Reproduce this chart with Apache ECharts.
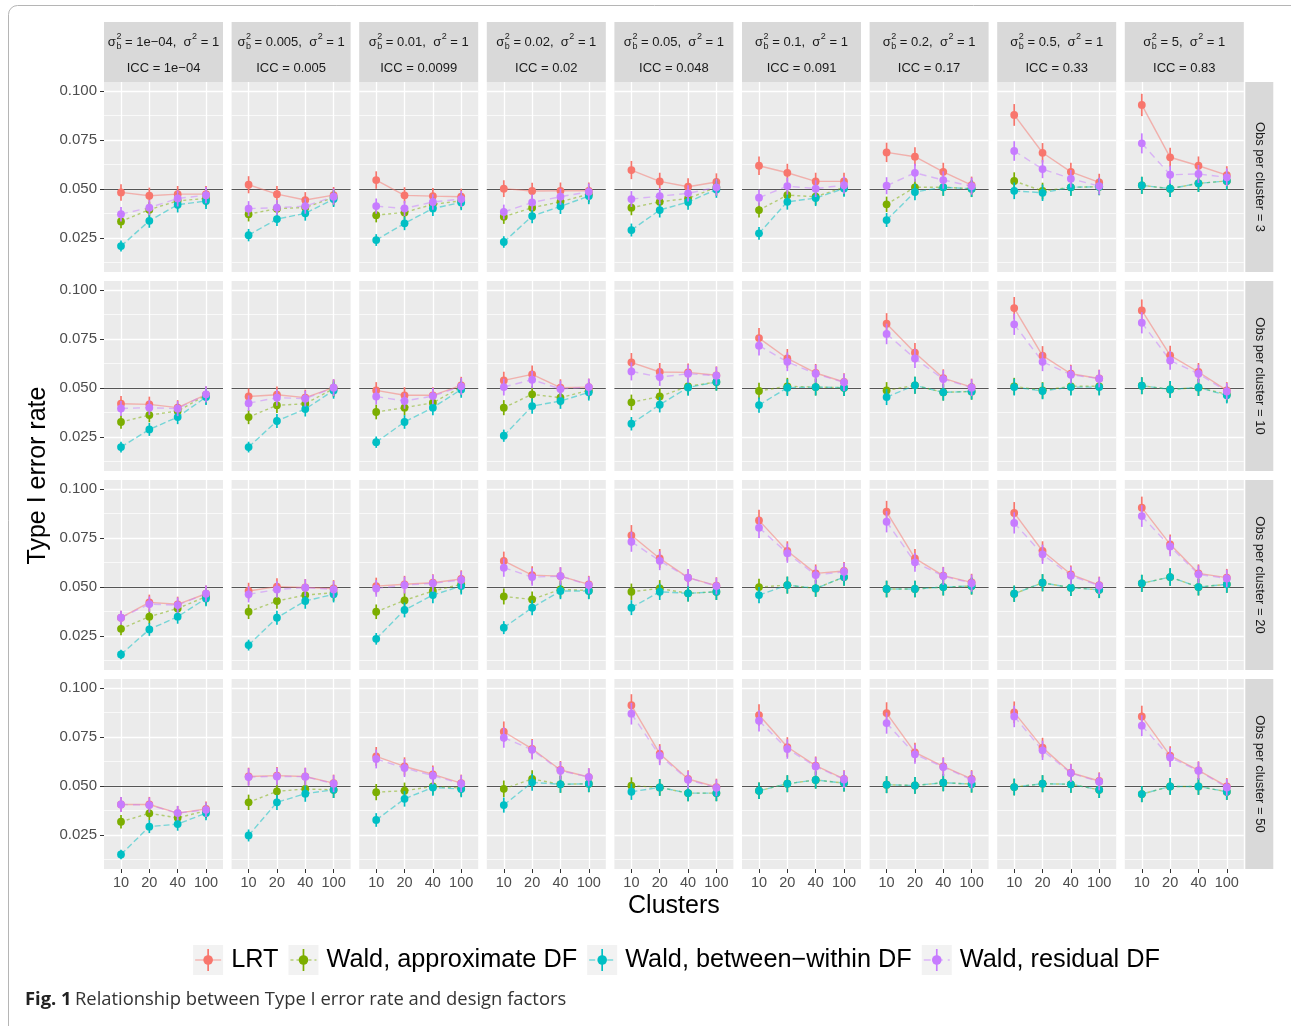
<!DOCTYPE html>
<html><head><meta charset="utf-8">
<script src="https://cdn.jsdelivr.net/npm/echarts@6/dist/echarts.min.js"></script>
<style>html,body{margin:0;padding:0;background:#fff}#c{width:1291px;height:1026px}</style>
</head><body><div id="c"></div>
<script>
// ---------- categories / labels ----------
const CLUSTERS = ['10','20','40','100'];
const SIGMA_B2 = ['1e\u221204','0.005','0.01','0.02','0.05','0.1','0.2','0.5','5'];
const ICC = ['1e\u221204','0.005','0.0099','0.02','0.048','0.091','0.17','0.33','0.83'];
const OBS = ['3','10','20','50'];
const METHODS = ['LRT','Wald, approximate DF','Wald, between\u2212within DF','Wald, residual DF'];
const Y_TICKS = [0.025,0.05,0.075,0.1];
const Y_MINOR = [0.0125,0.0375,0.0625,0.0875];
const N_SIM = 10000; // simulations per cell (for 95% binomial CI error bars)

// ---------- values: [column][cluster] ----------
const LRT_OBS3  = [[0.0483,0.0466,0.0474,0.0474],[0.0522,0.0474,0.0444,0.0469],[0.0546,0.0468,0.0464,0.0461],[0.0502,0.0490,0.0491,0.0491],[0.0597,0.0539,0.0512,0.0536],[0.0619,0.0583,0.0539,0.0539],[0.0687,0.0665,0.0588,0.0520],[0.0878,0.0685,0.0588,0.0534],[0.0929,0.0662,0.0619,0.0571]];
const APX_OBS3  = [[0.0335,0.0395,0.0440,0.0452],[0.0372,0.0400,0.0406,0.0457],[0.0367,0.0381,0.0422,0.0440],[0.0359,0.0405,0.0435,0.0474],[0.0405,0.0435,0.0452,0.0509],[0.0393,0.0469,0.0461,0.0509],[0.0422,0.0509,0.0509,0.0502],[0.0541,0.0490,0.0509,0.0512],[0.0519,0.0502,0.0529,0.0541]];
const BW_OBS3   = [[0.0209,0.0338,0.0420,0.0439],[0.0265,0.0347,0.0376,0.0449],[0.0240,0.0325,0.0401,0.0432],[0.0230,0.0362,0.0412,0.0464],[0.0291,0.0393,0.0434,0.0498],[0.0274,0.0435,0.0454,0.0503],[0.0342,0.0485,0.0509,0.0502],[0.0491,0.0481,0.0509,0.0512],[0.0519,0.0502,0.0529,0.0541]];
const RES_OBS3  = [[0.0372,0.0405,0.0452,0.0469],[0.0400,0.0405,0.0413,0.0461],[0.0413,0.0401,0.0434,0.0449],[0.0383,0.0432,0.0461,0.0486],[0.0449,0.0464,0.0478,0.0509],[0.0456,0.0515,0.0502,0.0520],[0.0517,0.0583,0.0546,0.0515],[0.0694,0.0602,0.0553,0.0515],[0.0733,0.0573,0.0577,0.0560]];

const LRT_OBS10 = [[0.0420,0.0417,0.0400,0.0466],[0.0457,0.0466,0.0451,0.0502],[0.0488,0.0463,0.0463,0.0514],[0.0539,0.0570,0.0502,0.0505],[0.0631,0.0582,0.0580,0.0565],[0.0755,0.0651,0.0577,0.0531],[0.0828,0.0680,0.0551,0.0505],[0.0908,0.0665,0.0573,0.0549],[0.0896,0.0667,0.0582,0.0488]];
const APX_OBS10 = [[0.0327,0.0362,0.0383,0.0463],[0.0352,0.0412,0.0420,0.0497],[0.0378,0.0400,0.0425,0.0505],[0.0400,0.0468,0.0451,0.0488],[0.0427,0.0457,0.0509,0.0531],[0.0485,0.0509,0.0505,0.0502],[0.0488,0.0514,0.0478,0.0483],[0.0509,0.0488,0.0509,0.0509],[0.0512,0.0493,0.0503,0.0468]];
const BW_OBS10  = [[0.0199,0.0289,0.0352,0.0454],[0.0199,0.0332,0.0393,0.0488],[0.0224,0.0327,0.0400,0.0493],[0.0257,0.0408,0.0434,0.0478],[0.0318,0.0415,0.0503,0.0531],[0.0413,0.0502,0.0505,0.0502],[0.0454,0.0514,0.0478,0.0483],[0.0505,0.0485,0.0505,0.0505],[0.0512,0.0493,0.0503,0.0463]];
const RES_OBS10 = [[0.0396,0.0400,0.0395,0.0468],[0.0423,0.0451,0.0446,0.0502],[0.0457,0.0434,0.0459,0.0509],[0.0505,0.0543,0.0495,0.0505],[0.0585,0.0556,0.0573,0.0563],[0.0716,0.0634,0.0573,0.0529],[0.0776,0.0651,0.0546,0.0502],[0.0825,0.0634,0.0568,0.0548],[0.0833,0.0641,0.0573,0.0483]];

const LRT_OBS20 = [[0.0344,0.0422,0.0412,0.0466],[0.0480,0.0502,0.0498,0.0493],[0.0505,0.0514,0.0522,0.0541],[0.0633,0.0561,0.0556,0.0514],[0.0764,0.0646,0.0548,0.0507],[0.0840,0.0684,0.0570,0.0582],[0.0884,0.0646,0.0558,0.0524],[0.0878,0.0684,0.0565,0.0510],[0.0905,0.0718,0.0570,0.0548]];
const APX_OBS20 = [[0.0287,0.0349,0.0391,0.0451],[0.0374,0.0429,0.0459,0.0471],[0.0374,0.0432,0.0480,0.0514],[0.0452,0.0437,0.0488,0.0483],[0.0476,0.0493,0.0468,0.0476],[0.0500,0.0510,0.0493,0.0551],[0.0490,0.0490,0.0500,0.0505],[0.0466,0.0522,0.0497,0.0486],[0.0519,0.0551,0.0500,0.0514]];
const BW_OBS20  = [[0.0156,0.0284,0.0349,0.0442],[0.0204,0.0344,0.0429,0.0463],[0.0236,0.0383,0.0459,0.0505],[0.0293,0.0395,0.0480,0.0480],[0.0395,0.0476,0.0468,0.0476],[0.0459,0.0510,0.0493,0.0551],[0.0490,0.0490,0.0500,0.0505],[0.0466,0.0522,0.0497,0.0486],[0.0519,0.0551,0.0500,0.0514]];
const RES_OBS20 = [[0.0344,0.0413,0.0408,0.0466],[0.0463,0.0488,0.0497,0.0488],[0.0493,0.0510,0.0519,0.0536],[0.0599,0.0551,0.0556,0.0510],[0.0731,0.0634,0.0548,0.0505],[0.0803,0.0673,0.0561,0.0578],[0.0833,0.0626,0.0556,0.0520],[0.0827,0.0667,0.0558,0.0507],[0.0862,0.0707,0.0565,0.0544]];

const LRT_OBS50 = [[0.0406,0.0406,0.0362,0.0383],[0.0549,0.0553,0.0549,0.0515],[0.0651,0.0600,0.0560,0.0515],[0.0777,0.0690,0.0582,0.0546],[0.0912,0.0665,0.0536,0.0495],[0.0862,0.0699,0.0604,0.0537],[0.0872,0.0672,0.0600,0.0537],[0.0876,0.0696,0.0568,0.0526],[0.0855,0.0655,0.0580,0.0498]];
const APX_OBS50 = [[0.0318,0.0361,0.0338,0.0374],[0.0417,0.0473,0.0485,0.0481],[0.0469,0.0476,0.0498,0.0490],[0.0486,0.0536,0.0509,0.0512],[0.0502,0.0493,0.0464,0.0464],[0.0476,0.0512,0.0531,0.0515],[0.0507,0.0503,0.0517,0.0510],[0.0495,0.0512,0.0509,0.0481],[0.0459,0.0498,0.0498,0.0471]];
const BW_OBS50  = [[0.0151,0.0293,0.0306,0.0362],[0.0248,0.0417,0.0461,0.0481],[0.0327,0.0435,0.0493,0.0485],[0.0403,0.0519,0.0509,0.0512],[0.0471,0.0493,0.0464,0.0464],[0.0476,0.0512,0.0531,0.0515],[0.0507,0.0503,0.0517,0.0510],[0.0495,0.0512,0.0509,0.0481],[0.0459,0.0498,0.0498,0.0471]];
const RES_OBS50 = [[0.0406,0.0403,0.0362,0.0379],[0.0546,0.0549,0.0548,0.0512],[0.0638,0.0592,0.0553,0.0512],[0.0747,0.0685,0.0578,0.0546],[0.0869,0.0655,0.0532,0.0491],[0.0833,0.0689,0.0600,0.0534],[0.0821,0.0662,0.0597,0.0532],[0.0855,0.0682,0.0566,0.0522],[0.0808,0.0646,0.0578,0.0493]];

const DATA_BY_ROW = [
  [LRT_OBS3, APX_OBS3, BW_OBS3, RES_OBS3],
  [LRT_OBS10, APX_OBS10, BW_OBS10, RES_OBS10],
  [LRT_OBS20, APX_OBS20, BW_OBS20, RES_OBS20],
  [LRT_OBS50, APX_OBS50, BW_OBS50, RES_OBS50]
];

// ---------- styling / layout ----------
const COLORS = ['#F8766D','#7CAE00','#00BFC4','#C77CFF'];
const DASHES = ['solid',[3,3],[6,3],[7,5]];
const FONT = '"Liberation Sans", Arial, Helvetica, sans-serif';
const L0 = 104, T0 = 82, PW = 119, PH = 190, DX = 127.6, DY = 199;
const YMIN = 0.0077, YMAX = 0.1046;
const STRIP_TOP = 22;

const mctx = document.createElement('canvas').getContext('2d');
function tw(s, size, weight, fam) { mctx.font = (weight || 'normal') + ' ' + size + 'px ' + (fam || FONT); return mctx.measureText(s).width; }

const grids = [], xAxes = [], yAxes = [], series = [], graphics = [];

for (let r = 0; r < 4; r++) {
  for (let c = 0; c < 9; c++) {
    const g = r * 9 + c;
    grids.push({left: L0 + c * DX, top: T0 + r * DY, width: PW, height: PH, show: true, backgroundColor: '#EBEBEB', borderWidth: 0, containLabel: false});
    xAxes.push({
      type: 'value', gridIndex: g, min: -0.6, max: 3.6,
      axisLine: {show: false, onZero: false},
      axisTick: {show: r === 3, customValues: [0,1,2,3], length: 4, lineStyle: {color: '#333', width: 1}},
      axisLabel: {show: r === 3, customValues: [0,1,2,3], formatter: v => CLUSTERS[Math.round(v)], color: '#4d4d4d', fontSize: 14.5, fontFamily: FONT, margin: 6},
      splitLine: {show: true, lineStyle: {color: '#ffffff', width: 1.3}}
    });
    yAxes.push({
      type: 'value', gridIndex: g, min: YMIN, max: YMAX, position: 'left',
      axisLine: {show: false, onZero: false},
      axisTick: {show: c === 0, customValues: Y_TICKS, length: 4, lineStyle: {color: '#333', width: 1}},
      axisLabel: {show: c === 0, customValues: Y_TICKS, formatter: v => v.toFixed(3), color: '#4d4d4d', fontSize: 15, fontFamily: FONT, margin: 7},
      splitLine: {show: true, lineStyle: {color: '#ffffff', width: 1.3}}
    });
    yAxes.push({
      type: 'value', gridIndex: g, min: YMIN, max: YMAX, position: 'left',
      axisLine: {show: false, onZero: false},
      axisTick: {show: false, customValues: Y_MINOR},
      axisLabel: {show: false},
      splitLine: {show: true, lineStyle: {color: '#ffffff', width: 0.7}}
    });
    for (let m = 0; m < 4; m++) {
      const vals = DATA_BY_ROW[r][m][c];
      const pts = vals.map((v, i) => [i, v]);
      const lineSeries = {
        type: 'line', name: METHODS[m], xAxisIndex: g, yAxisIndex: 2 * g, data: pts,
        showSymbol: false, silent: true, z: 2, animation: false,
        lineStyle: {color: COLORS[m], width: 1.4, type: DASHES[m], opacity: 0.5}
      };
      if (m === 0) {
        lineSeries.markLine = {
          silent: true, symbol: ['none','none'], label: {show: false}, z: 1, animation: false,
          lineStyle: {color: '#555555', width: 1.2, type: 'solid', opacity: 1},
          emphasis: {disabled: true},
          data: [{yAxis: 0.05}]
        };
      }
      series.push(lineSeries);
    }
    for (let m = 0; m < 4; m++) {
      const vals = DATA_BY_ROW[r][m][c];
      const col = COLORS[m];
      series.push({
        type: 'custom', name: METHODS[m], xAxisIndex: g, yAxisIndex: 2 * g, z: 3, animation: false, silent: true,
        data: vals.map((v, i) => [i, v]),
        encode: {x: 0, y: 1},
        renderItem: (params, api) => {
          const x = api.value(0), y = api.value(1);
          const e = 1.96 * Math.sqrt(y * (1 - y) / N_SIM);
          const p = api.coord([x, y]), lo = api.coord([x, y - e]), hi = api.coord([x, y + e]);
          return {type: 'group', children: [
            {type: 'line', shape: {x1: p[0], y1: lo[1], x2: p[0], y2: hi[1]}, style: {stroke: col, lineWidth: 1.7}},
            {type: 'circle', shape: {cx: p[0], cy: p[1], r: 3.9}, style: {fill: col}}
          ]};
        }
      });
    }
  }
}

// ---------- strips ----------
const STRIP_FILL = '#D9D9D9', STRIP_TXT = '#1a1a1a';
for (let c = 0; c < 9; c++) {
  const x0 = L0 + c * DX, cx = x0 + PW / 2;
  graphics.push({type: 'rect', shape: {x: x0, y: STRIP_TOP, width: PW, height: T0 - STRIP_TOP}, style: {fill: STRIP_FILL}, silent: true, z: 1});
  const y1 = 42, fs = 13, ss = 9;
  const p1 = 'σ', p3 = ' = ' + SIGMA_B2[c] + ',  σ', p5 = ' = 1';
  const w1 = tw(p1, fs), ws = Math.max(tw('2', ss), tw('b', ss)), w3 = tw(p3, fs), w4 = tw('2', ss), w5 = tw(p5, fs);
  let x = cx - (w1 + ws + w3 + w4 + w5 + 1) / 2;
  const T = (txt, xx, yy, size) => ({type: 'text', x: xx, y: yy, silent: true, z: 2, style: {text: txt, fontSize: size, fontFamily: FONT, fill: STRIP_TXT, align: 'left', verticalAlign: 'middle'}});
  graphics.push(T(p1, x, y1, fs)); x += w1;
  graphics.push(T('2', x + 0.5, y1 - 5, ss));
  graphics.push(T('b', x + 0.5, y1 + 4.5, ss)); x += ws + 0.5;
  graphics.push(T(p3, x, y1, fs)); x += w3;
  graphics.push(T('2', x + 0.5, y1 - 5, ss)); x += w4 + 0.5;
  graphics.push(T(p5, x, y1, fs));
  graphics.push({type: 'text', x: cx, y: 68, silent: true, z: 2, style: {text: 'ICC = ' + ICC[c], fontSize: fs, fontFamily: FONT, fill: STRIP_TXT, align: 'center', verticalAlign: 'middle'}});
}
const RS_X = L0 + 8 * DX + PW + 1.5, RS_W = 28;
for (let r = 0; r < 4; r++) {
  const y0 = T0 + r * DY;
  graphics.push({type: 'rect', shape: {x: RS_X, y: y0, width: RS_W, height: PH}, style: {fill: STRIP_FILL}, silent: true, z: 1});
  graphics.push({type: 'text', x: RS_X + RS_W / 2, y: y0 + PH / 2, rotation: -Math.PI / 2, silent: true, z: 2,
    style: {text: 'Obs per cluster = ' + OBS[r], fontSize: 13, fontFamily: FONT, fill: STRIP_TXT, align: 'center', verticalAlign: 'middle'}});
}

// ---------- axis titles ----------
const panelsMidX = L0 + (8 * DX + PW) / 2;
graphics.push({type: 'text', x: 38, y: T0 + (3 * DY + PH) / 2, rotation: Math.PI / 2, silent: true,
  style: {text: 'Type I error rate', fontSize: 25, fontFamily: FONT, fill: '#000', align: 'center', verticalAlign: 'middle'}});
graphics.push({type: 'text', x: panelsMidX, y: 906, silent: true,
  style: {text: 'Clusters', fontSize: 25, fontFamily: FONT, fill: '#000', align: 'center', verticalAlign: 'middle'}});

// ---------- legend ----------
(function () {
  const KEY = 30, GAP_T = 8, GAP_I = 10, LY = 960, LFS = 25.3;
  const widths = METHODS.map(s => KEY + GAP_T + tw(s, LFS) + GAP_I);
  const total = widths.reduce((a, b) => a + b, 0) - GAP_I;
  let x = 676.5 - total / 2;
  METHODS.forEach((s, m) => {
    const kc = x + KEY / 2;
    graphics.push({type: 'rect', shape: {x: x, y: LY - KEY / 2, width: KEY, height: KEY}, style: {fill: '#F2F2F2'}, silent: true});
    graphics.push({type: 'line', shape: {x1: x + 2, y1: LY, x2: x + KEY - 2, y2: LY}, style: {stroke: COLORS[m], lineWidth: 1.4, opacity: 0.5, lineDash: DASHES[m] === 'solid' ? null : DASHES[m]}, silent: true});
    graphics.push({type: 'line', shape: {x1: kc, y1: LY - 11, x2: kc, y2: LY + 11}, style: {stroke: COLORS[m], lineWidth: 1.7}, silent: true});
    graphics.push({type: 'circle', shape: {cx: kc, cy: LY, r: 4.8}, style: {fill: COLORS[m]}, silent: true});
    graphics.push({type: 'text', x: x + KEY + GAP_T, y: LY, silent: true, style: {text: s, fontSize: LFS, fontFamily: FONT, fill: '#000', align: 'left', verticalAlign: 'middle'}});
    x += widths[m];
  });
})();

// ---------- caption & frame ----------
graphics.push({type: 'text', x: 25, y: 1000, silent: true, style: {
  text: '{b|Fig. 1} {n|Relationship between Type I error rate and design factors}',
  align: 'left', verticalAlign: 'middle',
  rich: {b: {fontSize: 18.4, fontWeight: 'bold', fontFamily: '"Open Sans", sans-serif', fill: '#222'},
         n: {fontSize: 18.4, fontFamily: '"Open Sans", sans-serif', fill: '#333'}}}});
graphics.push({type: 'rect', shape: {x: 8.5, y: 5.5, width: 1300, height: 1060, r: 9}, style: {fill: 'none', stroke: '#b5b5b5', lineWidth: 1}, silent: true, z: -1});

const chart = echarts.init(document.getElementById('c'), null, {renderer: 'canvas'});
chart.setOption({
  backgroundColor: '#ffffff',
  animation: false,
  grid: grids, xAxis: xAxes, yAxis: yAxes, series: series,
  graphic: {elements: graphics}
});
</script></body></html>
